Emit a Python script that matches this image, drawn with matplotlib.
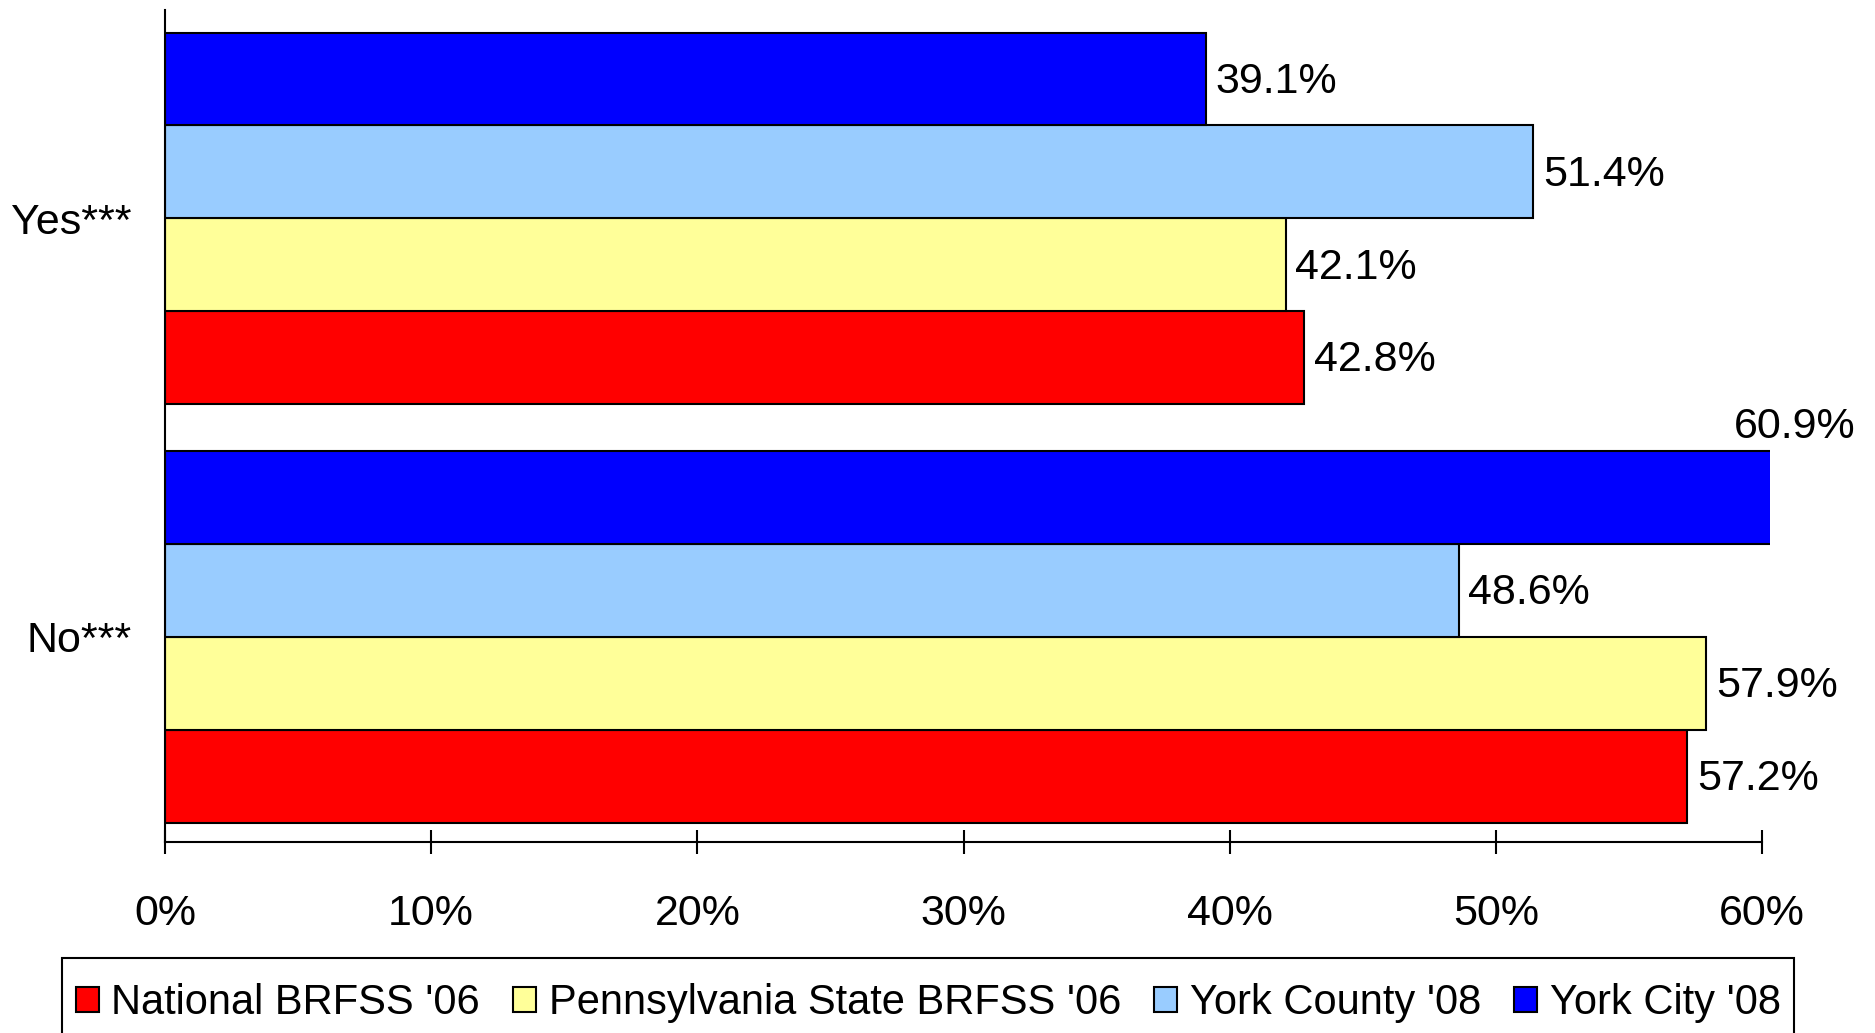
import matplotlib.pyplot as plt
import numpy as np
from matplotlib.patches import Rectangle

plt.rcParams['font.family'] = ['Liberation Sans', 'DejaVu Sans']

# Data
categories = ['No***', 'Yes***']
series = ["National BRFSS '06", "Pennsylvania State BRFSS '06", "York County '08", "York City '08"]
colors = ['#FF0000', '#FFFF99', '#99CCFF', '#0000FF']
national = [57.2, 42.8]
pennsylvania = [57.9, 42.1]
york_county = [48.6, 51.4]
york_city = [60.9, 39.1]
values = [national, pennsylvania, york_county, york_city]

fig = plt.figure(figsize=(18.75, 10.33), dpi=100)
ax = fig.add_axes([0.088, 0.185, 0.856, 0.805])

y = np.arange(len(categories))
h = 0.222
for i, (vals, col, name) in enumerate(zip(values, colors, series)):
    pos = y + (i - 1.5) * h
    ax.barh(pos, vals, height=h, color=col, edgecolor='black', linewidth=1.5, label=name)
    for p, v in zip(pos, vals):
        if v > 60:
            # clipped bar: label sits above it
            ax.annotate('{0:.1f}%'.format(v), (60.3, p + h / 2), xytext=(-26, 3),
                        textcoords='offset points', va='bottom', ha='left', fontsize=31)
        else:
            ax.annotate('{0:.1f}%'.format(v), (v, p), xytext=(7, -2),
                        textcoords='offset points', va='center', ha='left', fontsize=31)

ax.set_xlim(0, 60.3)
ax.set_ylim(-0.49, 1.497)
ax.set_xticks(np.arange(0, 61, 10))
ax.set_xticklabels(['{0}%'.format(t) for t in range(0, 61, 10)], fontsize=31)
ax.set_yticks(y)
ax.set_yticklabels(categories, fontsize=31)
ax.tick_params(axis='y', length=0, pad=24)
ax.tick_params(axis='x', direction='inout', length=17, width=1.5, pad=29)
for s in ['top', 'right']:
    ax.spines[s].set_visible(False)
ax.spines['bottom'].set_bounds(0, 60)
ax.spines['bottom'].set_linewidth(1.5)
ax.spines['left'].set_linewidth(1.5)

# legend box
fig.patches.append(Rectangle((0.033, -0.01), 0.924, 0.083, transform=fig.transFigure,
                             facecolor='white', edgecolor='black', linewidth=1.5))
fig.legend(loc='center', bbox_to_anchor=(0.495, 0.029), ncol=4, frameon=False, fontsize=30,
           handlelength=0.55, handleheight=0.55, handletextpad=0.3, columnspacing=0.8)

fig.savefig('out.png', dpi=100)
